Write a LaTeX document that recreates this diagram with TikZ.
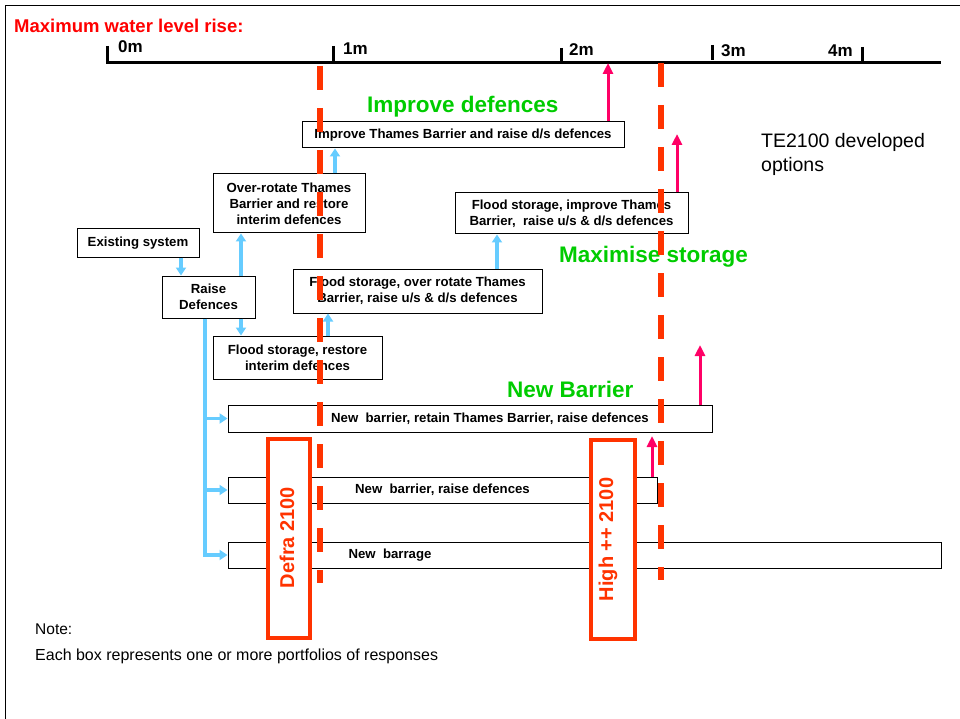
\documentclass[tikz,border=0pt]{standalone}
\usepackage{fontspec}
\setmainfont{Liberation Sans}
\usetikzlibrary{arrows.meta}
\definecolor{dashred}{HTML}{FF3300}
\definecolor{titlered}{HTML}{FF0000}
\definecolor{pinkc}{HTML}{FF0066}
\definecolor{bluec}{HTML}{66CCFF}
\definecolor{greenc}{HTML}{00CC00}
\newcommand{\bxfont}{\fontsize{13.2}{15.8}\selectfont\bfseries}
\begin{document}
\begin{tikzpicture}[x=1pt,y=-1pt,
  box/.style={draw=black, line width=1pt, fill=white, inner sep=0pt, font=\bxfont, align=center},
  bxtext/.style={inner sep=0pt, font=\bxfont},
  axislabel/.style={anchor=base west, inner sep=0pt, font=\fontsize{17}{20}\selectfont\bfseries},
  greenlabel/.style={anchor=base west, inner sep=0pt, text=greenc, font=\fontsize{22.5}{26}\selectfont\bfseries},
  scenario/.style={draw=dashred, line width=3.5pt, fill=white, inner sep=0pt},
  scentext/.style={inner sep=0pt, rotate=90, text=dashred, font=\fontsize{20}{24}\selectfont\bfseries},
  dashline/.style={draw=dashred, line width=6pt, dash pattern=on 24pt off 18pt},
  pinkarrow/.style={draw=pinkc, line width=3pt, -{Triangle[length=11pt,width=10pt]}},
  bluearrow/.style={draw=bluec, line width=3.3pt, -{Triangle[length=8pt,width=10pt]}},
  tick/.style={draw=black, line width=3pt}]
\useasboundingbox (0,0) rectangle (960,719);
% frame
\draw[line width=1.5pt] (5.5,719) -- (5.5,5.5) -- (960,5.5);
% title and scale
\node[anchor=base west, inner sep=0pt, text=titlered, font=\fontsize{18.5}{22}\selectfont\bfseries] (title) at (14,32.5) {Maximum water level rise:};
\draw[tick] (107,46) -- (107,62.5) -- (941,62.5);
\draw[tick] (333.5,46) -- (333.5,62.5);
\draw[tick] (561.5,48) -- (561.5,62.5);
\draw[tick] (712,45) -- (712,60.5);
\draw[tick] (862.5,47) -- (862.5,62);
\node[axislabel] (m0) at (118,53) {0m};
\node[axislabel] (m1) at (343,55) {1m};
\node[axislabel] (m2) at (569,56) {2m};
\node[axislabel] (m3) at (721,57) {3m};
\node[axislabel] (m4) at (828,57) {4m};
% group labels
\node[greenlabel] (gimp) at (367,112.5) {Improve defences};
\node[greenlabel] (gstor) at (559,262.5) {Maximise storage};
\node[greenlabel] (gbar) at (507,397) {New Barrier};
\node[anchor=base west, inner sep=0pt, align=left, font=\fontsize{19.5}{24}\selectfont] (te) at (761,171.5) {TE2100 developed\\options};
% boxes
\node[box, minimum width=322pt, minimum height=26pt] (improve) at (463,135) {Improve Thames Barrier and raise d/s defences};
\node[box, minimum width=152pt, minimum height=59pt] (over) at (289,203.5) {Over-rotate Thames\\Barrier and restore\\interim defences};
\node[box, minimum width=122pt, minimum height=28pt] (exist) at (138,243) {Existing system};
\node[box, minimum width=93pt, minimum height=42pt] (raise) at (208.5,297) {Raise\\Defences};
\node[box, minimum width=169pt, minimum height=43pt] (restore) at (297.5,357.5) {Flood storage, restore\\interim defences};
\node[box, minimum width=249pt, minimum height=44pt] (fsover) at (417.5,291) {Flood storage, over rotate Thames\\Barrier, raise u/s \& d/s defences};
\node[box, minimum width=233pt, minimum height=41pt] (fsimp) at (571.5,213.5) {Flood storage, improve Thames\\Barrier,\ \ raise u/s \& d/s defences};
\node[box, minimum width=484pt, minimum height=27pt] (nbretain) at (470,418.5) {};
\node[bxtext] (nbretaint) at (490,418.5) {New\ \ barrier, retain Thames Barrier, raise defences};
\node[box, minimum width=429pt, minimum height=26pt] (nbraise) at (442.5,490) {New\ \ barrier, raise defences};
\node[box, minimum width=713pt, minimum height=26pt] (barrage) at (584.5,555) {};
\node[bxtext] (barraget) at (390,555) {New\ \ barrage};
% blue arrows
\coordinate (b1) at (181,0);
\coordinate (b2) at (241,0);
\coordinate (b3) at (328,0);
\coordinate (b4) at (335,0);
\coordinate (b5) at (497,0);
\coordinate (tr) at (205,0);
\draw[bluearrow] (exist.south -| b1) -- (raise.north -| b1);
\draw[bluearrow] (raise.north -| b2) -- (over.south -| b2);
\draw[bluearrow] (raise.south -| b2) -- (restore.north -| b2);
\draw[bluearrow] (restore.north -| b3) -- (fsover.south -| b3);
\draw[bluearrow] (over.north -| b4) -- (improve.south -| b4);
\draw[bluearrow] (fsover.north -| b5) -- (fsimp.south -| b5);
\draw[bluearrow] (raise.south -| tr) |- (barrage.west);
\draw[bluearrow] (nbretain.west -| tr) -- (nbretain.west);
\draw[bluearrow] (nbraise.west -| tr) -- (nbraise.west);
% pink arrows
\coordinate (p1) at (608,63);
\coordinate (p2) at (677,134);
\coordinate (p3) at (700,345);
\coordinate (p4) at (652,436);
\draw[pinkarrow] (improve.north -| p1) -- (p1);
\draw[pinkarrow] (fsimp.north -| p2) -- (p2);
\draw[pinkarrow] (nbretain.north -| p3) -- (p3);
\draw[pinkarrow] (nbraise.north -| p4) -- (p4);
% scenario boxes
\node[scenario, minimum width=42pt, minimum height=199pt] (defra) at (289,538.5) {};
\node[scentext] (defrat) at (287,537.5) {Defra 2100};
\node[scenario, minimum width=44pt, minimum height=199pt] (high) at (613,539.5) {};
\node[scentext] (hight) at (608,539.5) {High ++ 2100};
% dashed scenario lines
\draw[dashline] (320,66) -- (320,583);
\draw[dashline] (661,63) -- (661,580);
% notes
\node[anchor=base west, inner sep=0pt, font=\fontsize{15.5}{18}\selectfont] (note) at (35,634) {Note:};
\node[anchor=base west, inner sep=0pt, font=\fontsize{16}{19}\selectfont] (note2) at (35,660.5) {Each box represents one or more portfolios of responses};
\end{tikzpicture}
\end{document}
